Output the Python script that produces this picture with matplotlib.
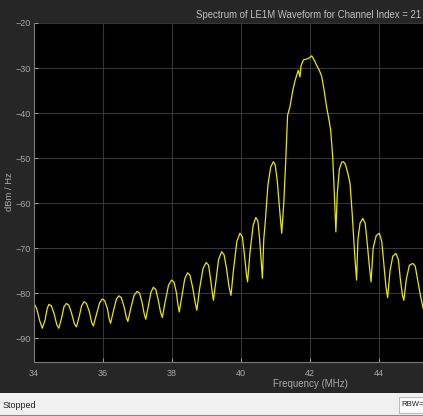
import matplotlib
matplotlib.use('Agg')
import matplotlib.pyplot as plt
from matplotlib.patches import Rectangle

# spectrum (MHz, dBm/Hz)
freq_mhz = [34.00, 34.08, 34.16, 34.24, 34.32, 34.38, 34.43, 34.50, 34.58, 34.66,
            34.72, 34.80, 34.87, 34.94, 35.01, 35.09, 35.17, 35.23, 35.31, 35.38,
            35.45, 35.52, 35.60, 35.67, 35.72, 35.80, 35.90, 35.98, 36.05, 36.13,
            36.18, 36.22, 36.30, 36.39, 36.46, 36.53, 36.61, 36.68, 36.72, 36.80,
            36.90, 36.99, 37.06, 37.13, 37.20, 37.24, 37.31, 37.39, 37.46, 37.53,
            37.60, 37.67, 37.72, 37.80, 37.90, 37.99, 38.06, 38.13, 38.17, 38.21,
            38.29, 38.37, 38.45, 38.52, 38.60, 38.67, 38.72, 38.80, 38.90, 38.99,
            39.06, 39.12, 39.17, 39.20, 39.27, 39.35, 39.44, 39.51, 39.58, 39.65,
            39.71, 39.78, 39.88, 39.97, 40.04, 40.10, 40.16, 40.19, 40.26, 40.35,
            40.43, 40.49, 40.54, 40.59, 40.62, 40.66, 40.70, 40.78, 40.86, 40.94,
            40.99, 41.05, 41.12, 41.18, 41.24, 41.30, 41.35, 41.42, 41.50, 41.57,
            41.66, 41.71, 41.74, 41.81, 41.90, 41.97, 42.05, 42.12, 42.20, 42.27,
            42.34, 42.41, 42.48, 42.55, 42.60, 42.66, 42.70, 42.75, 42.79, 42.85,
            42.92, 42.97, 43.03, 43.10, 43.16, 43.22, 43.30, 43.35, 43.39, 43.45,
            43.53, 43.60, 43.66, 43.72, 43.77, 43.83, 43.92, 44.01, 44.08, 44.14,
            44.20, 44.25, 44.32, 44.40, 44.49, 44.56, 44.62, 44.68, 44.72, 44.79,
            44.88, 44.98, 45.05, 45.12, 45.20, 45.28]
power_dbm = [-82.3, -83.5, -86.0, -87.8, -86.0, -83.5, -82.5, -82.8, -84.5, -87.0,
             -87.8, -85.5, -83.0, -82.3, -82.7, -84.5, -86.8, -87.5, -85.2, -82.8,
             -81.9, -82.3, -84.0, -86.5, -87.3, -85.0, -82.2, -81.3, -81.7, -83.5,
             -85.8, -86.7, -84.0, -81.3, -80.6, -81.0, -83.0, -85.5, -86.3, -83.5,
             -80.5, -79.6, -80.0, -82.0, -84.8, -85.8, -83.0, -79.8, -78.7, -79.2,
             -81.5, -84.3, -85.4, -82.0, -78.2, -77.1, -77.6, -80.0, -82.5, -84.2,
             -80.5, -76.8, -75.5, -76.0, -78.8, -82.0, -83.8, -79.0, -74.5, -73.2,
             -73.8, -77.0, -80.0, -81.6, -77.5, -72.5, -70.8, -71.5, -74.5, -78.5,
             -80.5, -75.0, -68.5, -66.7, -67.5, -71.5, -76.0, -77.5, -71.0, -65.0,
             -63.2, -64.0, -68.0, -73.5, -76.7, -68.0, -64.5, -56.0, -52.0, -50.8,
             -51.5, -55.0, -61.5, -66.7, -60.0, -50.0, -40.5, -38.6, -35.0, -32.7,
             -30.5, -32.0, -29.5, -28.2, -28.0, -27.8, -27.3, -28.2, -29.5, -30.5,
             -31.9, -35.0, -38.6, -41.5, -43.8, -50.0, -57.0, -66.4, -58.0, -52.5,
             -50.9, -50.8, -51.5, -53.5, -55.6, -62.0, -72.0, -77.1, -68.0, -64.5,
             -63.4, -64.5, -69.0, -74.0, -77.5, -70.0, -67.2, -66.7, -68.5, -73.5,
             -78.5, -81.0, -75.0, -71.8, -71.2, -72.5, -77.0, -80.5, -81.6, -77.0,
             -73.8, -73.4, -74.0, -77.0, -80.5, -83.4]

xticks = [34, 36, 38, 40, 42, 44]
yticks = [-20, -30, -40, -50, -60, -70, -80, -90]

W, H = 423, 416
txt = '#a8a8a8'
plt.rcParams['font.family'] = ['Liberation Sans', 'DejaVu Sans']

fig = plt.figure(figsize=(W / 100, H / 100), dpi=100)
fig.patch.set_facecolor('#262626')

# axes continues past the right edge (span 34-50 MHz, picture is cropped)
ax_left, ax_right, ax_top, ax_bot = 34, 586, 23, 362
ax = fig.add_axes([ax_left / W, 1 - ax_bot / H, (ax_right - ax_left) / W, (ax_bot - ax_top) / H])
ax.set_facecolor('black')
ax.plot(freq_mhz, power_dbm, color='#e8e800', lw=0.9)
ax.set_xlim(34, 50)
ax.set_ylim(-95.3, -20)
ax.set_xticks(xticks)
ax.set_yticks(yticks)
ax.grid(True, color='#363636', lw=0.8)
ax.tick_params(colors=txt, labelsize=6.5, direction='in', length=3, width=0.6)
ax.tick_params(axis='x', pad=5)
ax.tick_params(axis='y', pad=2)
for s in ['top', 'right']:
    ax.spines[s].set_visible(False)
for s in ['left', 'bottom']:
    ax.spines[s].set_color('#7a7a7a')
    ax.spines[s].set_linewidth(0.8)
ax.set_xlabel('Frequency (MHz)', color=txt, fontsize=7, labelpad=1)
fig.text(10 / W, 1 - 192 / H, 'dBm / Hz', color=txt, fontsize=6.8, rotation=90,
         ha='center', va='center')
fig.text(196 / W, 1 - 15 / H, 'Spectrum of LE1M Waveform for Channel Index = 21',
         color='#c0c0c0', fontsize=6.9, ha='left', va='center')

# status bar at the bottom
fig.patches.append(Rectangle((0, 0), 1, 23 / H, transform=fig.transFigure,
                             facecolor='#f0f0f0', edgecolor='none', zorder=5))
fig.add_artist(plt.Line2D([0, 1], [1.5 / H, 1.5 / H], transform=fig.transFigure,
                          color='#8a8a8a', lw=0.8, zorder=6))
fig.text(3 / W, 11 / H, 'Stopped', fontsize=6.5, color='#202020', va='center', zorder=7)
fig.patches.append(Rectangle((399 / W, 3 / H), 30 / W, 16 / H, transform=fig.transFigure,
                             facecolor='#fafafa', edgecolor='#b0b0b0', lw=0.6, zorder=6))
fig.text(401 / W, 11 / H, 'RBW=', fontsize=5.6, color='#202020', va='center', zorder=7)

fig.savefig('out.png', dpi=100, facecolor=fig.get_facecolor())
